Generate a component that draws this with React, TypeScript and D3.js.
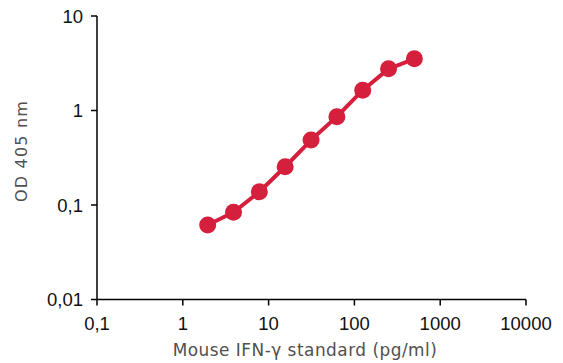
import React from "react";
import * as d3 from "d3";

const concentrations = [1.95, 3.9, 7.8, 15.6, 31.25, 62.5, 125, 250, 500];
const odValues = [0.0614, 0.0837, 0.138, 0.254, 0.487, 0.861, 1.64, 2.76, 3.52];
const xTicks = [0.1, 1, 10, 100, 1000, 10000];
const xTickLabels = ["0,1", "1", "10", "100", "1000", "10000"];
const yTicks = [0.01, 0.1, 1, 10];
const yTickLabels = ["0,01", "0,1", "1", "10"];

const W = 563;
const H = 363;
const left = 97;
const right = 526;
const top = 16;
const bottom = 299.5;
const red = "#d41f3d";

export default function App() {
  const x = d3.scaleLog().domain([0.1, 10000]).range([left, right]);
  const y = d3.scaleLog().domain([0.01, 10]).range([bottom, top]);
  const line = d3
    .line<number>()
    .x((_, i) => x(concentrations[i]))
    .y((d) => y(d));
  const tickFont = "'Liberation Sans', Arial, sans-serif";
  const titleFont = "'DejaVu Sans', Verdana, sans-serif";
  return (
    <svg
      width={W}
      height={H}
      style={{ position: "absolute", left: 0, top: 0, background: "#fff" }}
    >
      <line x1={left} x2={left} y1={top} y2={bottom} stroke="#000" strokeWidth={1.5} />
      <line x1={left} x2={right} y1={bottom} y2={bottom} stroke="#000" strokeWidth={1.5} />
      {yTicks.map((t, i) => (
        <g key={"y" + t}>
          <line x1={left - 6} x2={left} y1={y(t)} y2={y(t)} stroke="#000" strokeWidth={1.5} />
          <text
            x={left - 14}
            y={y(t)}
            dy="0.36em"
            textAnchor="end"
            fontFamily={tickFont}
            fontSize={18.5}
            fill="#111"
          >
            {yTickLabels[i]}
          </text>
        </g>
      ))}
      {xTicks.map((t, i) => (
        <g key={"x" + t}>
          <line x1={x(t)} x2={x(t)} y1={bottom} y2={bottom + 6} stroke="#000" strokeWidth={1.5} />
          <text
            x={x(t)}
            y={330}
            textAnchor="middle"
            fontFamily={tickFont}
            fontSize={18.5}
            fill="#111"
          >
            {xTickLabels[i]}
          </text>
        </g>
      ))}
      <text
        x={305}
        y={356}
        textAnchor="middle"
        fontFamily={titleFont}
        fontSize={16.9}
        letterSpacing={0.5}
        fill="#505050"
      >
        Mouse IFN-γ standard (pg/ml)
      </text>
      <text
        transform={`translate(26.5, 151) rotate(-90)`}
        textAnchor="middle"
        fontFamily={titleFont}
        fontSize={16}
        letterSpacing={1.2}
        fill="#505050"
      >
        OD 405 nm
      </text>
      <path d={line(odValues) || ""} fill="none" stroke={red} strokeWidth={4} strokeLinejoin="round" />
      {odValues.map((v, i) => (
        <circle key={i} cx={x(concentrations[i])} cy={y(v)} r={8.5} fill={red} />
      ))}
    </svg>
  );
}
